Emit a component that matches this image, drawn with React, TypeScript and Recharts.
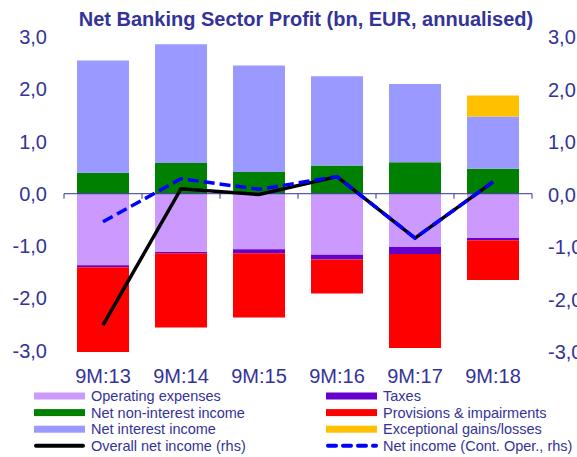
import React from 'react';
import { ComposedChart, Bar, Line, XAxis, YAxis, ReferenceLine } from 'recharts';

const CATEGORIES = ['9M:13', '9M:14', '9M:15', '9M:16', '9M:17', '9M:18'];
const NET_NON_INTEREST = [0.4, 0.59, 0.415, 0.54, 0.6, 0.48];
const NET_INTEREST = [2.15, 2.27, 2.04, 1.71, 1.5, 1.0];
const EXCEPTIONAL = [0, 0, 0, 0, 0, 0.4];
const OPERATING_EXPENSES = [-1.37, -1.115, -1.065, -1.17, -1.02, -0.85];
const TAXES = [-0.04, -0.025, -0.075, -0.09, -0.135, -0.04];
const PROVISIONS = [-1.62, -1.42, -1.23, -0.65, -1.8, -0.76];
const OVERALL_NET = [-2.49, 0.11, 0.0, 0.34, -0.83, 0.24];
const NET_CONT = [-0.52, 0.3, 0.1, 0.34, -0.83, 0.24];
const Y_TICKS = [-3, -2, -1, 0, 1, 2, 3];

const data = CATEGORIES.map((c, i) => ({
  cat: c,
  nonInterest: NET_NON_INTEREST[i],
  netInterest: NET_INTEREST[i],
  exceptional: EXCEPTIONAL[i],
  opex: OPERATING_EXPENSES[i],
  taxes: TAXES[i],
  provisions: PROVISIONS[i],
  overall: OVERALL_NET[i],
  cont: NET_CONT[i],
}));

const TXT = '#333399';
const FONT = '"Liberation Sans", Arial, sans-serif';

const fmt = (v: number) => v.toFixed(1).replace('.', ',');

const AxisShape = (props: any) => {
  const { x1, y1, x2 } = props;
  const n = CATEGORIES.length;
  const step = (x2 - x1) / n;
  const ticks = [];
  for (let i = 0; i <= n; i++) {
    const x = x1 + i * step;
    ticks.push(<line key={i} x1={x} x2={x} y1={y1} y2={y1 + 5} stroke={TXT} strokeWidth={1} />);
  }
  return (
    <g>
      <line x1={x1} x2={x2} y1={y1} y2={y1} stroke={TXT} strokeWidth={1} />
      {ticks}
    </g>
  );
};

const LEGEND_LEFT = [
  { name: 'Operating expenses', color: '#CC99FF', kind: 'rect' },
  { name: 'Net non-interest income', color: '#008000', kind: 'rect' },
  { name: 'Net interest income', color: '#9999FF', kind: 'rect' },
  { name: 'Overall net income (rhs)', color: '#000000', kind: 'line' },
];
const LEGEND_RIGHT = [
  { name: 'Taxes', color: '#6600CC', kind: 'rect' },
  { name: 'Provisions & impairments', color: '#FF0000', kind: 'rect' },
  { name: 'Exceptional gains/losses', color: '#FFC000', kind: 'rect' },
  { name: 'Net income (Cont. Oper., rhs)', color: '#0000FF', kind: 'dash' },
];

const LegendItem = ({ item, x, y }: any) => {
  let icon;
  if (item.kind === 'rect') {
    icon = <rect x={x} y={y - 3.5} width={51} height={7} fill={item.color} />;
  } else if (item.kind === 'line') {
    icon = <line x1={x + 2} x2={x + 49} y1={y} y2={y} stroke={item.color} strokeWidth={4} strokeLinecap="round" />;
  } else {
    icon = (
      <line x1={x + 2} x2={x + 50} y1={y} y2={y} stroke={item.color} strokeWidth={4} strokeLinecap="round" strokeDasharray="8 7" />
    );
  }
  return (
    <g>
      {icon}
      <text x={x + 57} y={y + 5} fontSize={14.5} fill={TXT} fontFamily={FONT}>
        {item.name}
      </text>
    </g>
  );
};

export default function App() {
  return (
    <div style={{ position: 'absolute', left: 0, top: 0, width: 577, height: 457, background: '#fff' }}>
      <ComposedChart
        width={577}
        height={457}
        data={data}
        stackOffset="sign"
        barCategoryGap="16.7%"
        margin={{ top: 37, right: 0, bottom: 75, left: 0 }}
      >
        <XAxis
          dataKey="cat"
          axisLine={false}
          tickLine={false}
          height={30}
          tickMargin={11}
          tick={{ fill: TXT, fontSize: 20, fontFamily: FONT }}
          interval={0}
        />
        <YAxis
          yAxisId="left"
          domain={[-3, 3]}
          ticks={Y_TICKS}
          width={64}
          axisLine={false}
          tickLine={false}
          tickMargin={11}
          tickFormatter={fmt}
          tick={{ fill: TXT, fontSize: 20, fontFamily: FONT }}
        />
        <YAxis
          yAxisId="right"
          orientation="right"
          domain={[-3, 3]}
          ticks={Y_TICKS}
          width={45}
          axisLine={false}
          tickLine={false}
          tickMargin={10}
          tickFormatter={fmt}
          tick={{ fill: TXT, fontSize: 20, fontFamily: FONT, textAnchor: 'start' }}
        />
        <Bar yAxisId="left" dataKey="nonInterest" stackId="a" fill="#008000" isAnimationActive={false} />
        <Bar yAxisId="left" dataKey="netInterest" stackId="a" fill="#9999FF" isAnimationActive={false} />
        <Bar yAxisId="left" dataKey="exceptional" stackId="a" fill="#FFC000" isAnimationActive={false} />
        <Bar yAxisId="left" dataKey="opex" stackId="a" fill="#CC99FF" isAnimationActive={false} />
        <Bar yAxisId="left" dataKey="taxes" stackId="a" fill="#6600CC" isAnimationActive={false} />
        <Bar yAxisId="left" dataKey="provisions" stackId="a" fill="#FF0000" isAnimationActive={false} />
        <ReferenceLine yAxisId="left" y={0} shape={AxisShape} />
        <Line
          yAxisId="right"
          dataKey="overall"
          stroke="#000000"
          strokeWidth={3.5}
          dot={false}
          type="linear"
          isAnimationActive={false}
        />
        <Line
          yAxisId="right"
          dataKey="cont"
          stroke="#0000FF"
          strokeWidth={3.5}
          strokeDasharray="11 5"
          dot={false}
          type="linear"
          isAnimationActive={false}
        />
      </ComposedChart>
      <svg width={577} height={457} style={{ position: 'absolute', left: 0, top: 0, pointerEvents: 'none' }}>
        <text x={306} y={26} textAnchor="middle" fontSize={20} fontWeight="bold" fill={TXT} fontFamily={FONT}>
          Net Banking Sector Profit (bn, EUR, annualised)
        </text>
        {LEGEND_LEFT.map((it, i) => (
          <LegendItem key={it.name} item={it} x={34} y={396 + i * 16.6} />
        ))}
        {LEGEND_RIGHT.map((it, i) => (
          <LegendItem key={it.name} item={it} x={326} y={396 + i * 16.6} />
        ))}
      </svg>
    </div>
  );
}
